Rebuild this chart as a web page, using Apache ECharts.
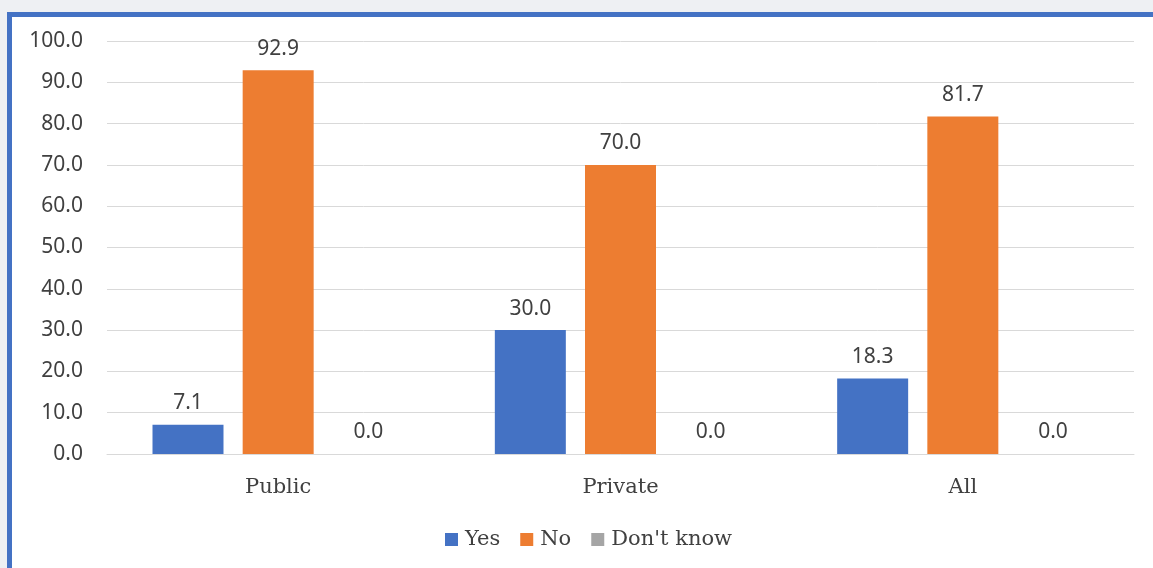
<!DOCTYPE html>
<html>
<head>
<meta charset="utf-8">
<script src="https://cdn.jsdelivr.net/npm/echarts@6/dist/echarts.min.js"></script>
<style>
  html, body { margin: 0; padding: 0; background: #eef0f3; width: 1153px; height: 568px; overflow: hidden; }
  #frame {
    position: absolute; left: 7px; top: 12px; width: 1141px; height: 551px;
    border-left: 5px solid #4472c4; border-top: 5px solid #4472c4; background: #fff;
  }
  #chart { width: 1141px; height: 551px; }
</style>
</head>
<body>
<div id="frame"><div id="chart"></div></div>
<script>
// categories and values
var categories = ['Public', 'Private', 'All']
var yesValues = [7.1, 30.0, 18.3]
var noValues = [92.9, 70.0, 81.7]
var dontKnowValues = [0.0, 0.0, 0.0]

var numFont = '"Noto Sans", sans-serif'
var serifFont = '"DejaVu Serif", serif'

function barSeries (name, data, color) {
  return {
    name: name,
    type: 'bar',
    data: data,
    barWidth: 71,
    barGap: '27%',
    itemStyle: { color: color },
    label: {
      show: true,
      position: 'top',
      distance: 11,
      color: '#404040',
      fontFamily: numFont,
      fontSize: 21,
      formatter: function (p) { return p.value.toFixed(1) }
    }
  }
}

var myChart = echarts.init(document.getElementById('chart'))
var option = {
  animation: false,
  grid: { left: 95, right: 19, top: 24, bottom: 114, containLabel: false },
  legend: {
    bottom: 13,
    left: 428,
    itemWidth: 13,
    itemHeight: 13,
    itemGap: 20,
    icon: 'rect',
    textStyle: { color: '#404040', fontFamily: serifFont, fontSize: 21, padding: [0, 0, 0, 2] },
    data: ['Yes', 'No', "Don't know"]
  },
  xAxis: {
    type: 'category',
    data: categories,
    axisLine: { lineStyle: { color: '#d9d9d9' } },
    axisTick: { show: false },
    axisLabel: { color: '#404040', fontFamily: serifFont, fontSize: 21, margin: 23 }
  },
  yAxis: {
    type: 'value',
    min: 0,
    max: 100,
    interval: 10,
    axisLine: { show: false },
    axisTick: { show: false },
    splitLine: { lineStyle: { color: '#d9d9d9' } },
    axisLabel: {
      color: '#404040', fontFamily: numFont, fontSize: 21, margin: 24,
      formatter: function (v) { return v.toFixed(1) }
    }
  },
  series: [
    barSeries('Yes', yesValues, '#4472c4'),
    barSeries('No', noValues, '#ed7d31'),
    barSeries("Don't know", dontKnowValues, '#a5a5a5')
  ]
}
myChart.setOption(option)
</script>
</body>
</html>
